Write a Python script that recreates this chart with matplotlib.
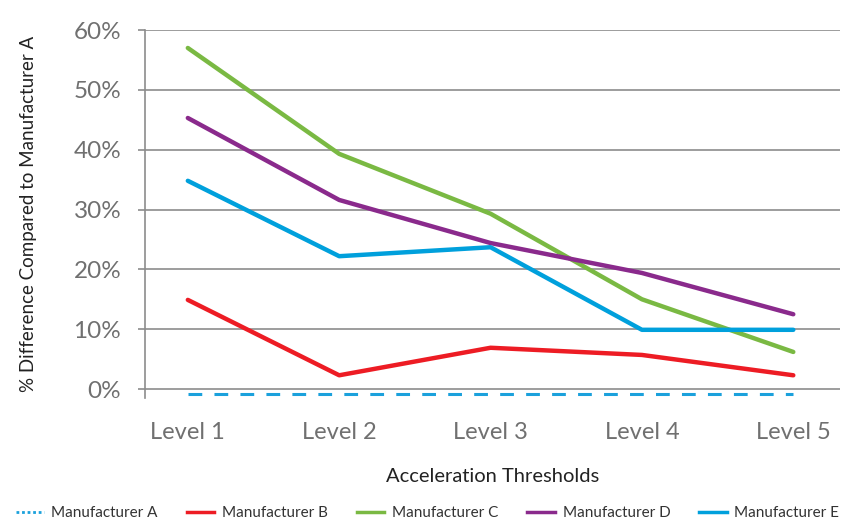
import matplotlib.pyplot as plt
from matplotlib.lines import Line2D

levels = ['Level 1', 'Level 2', 'Level 3', 'Level 4', 'Level 5']
mfr_a = [-0.9, -0.9, -0.9, -0.9, -0.9]
mfr_b = [14.9, 2.3, 6.9, 5.7, 2.3]
mfr_c = [57.0, 39.3, 29.3, 15.0, 6.2]
mfr_d = [45.3, 31.6, 24.4, 19.4, 12.5]
mfr_e = [34.8, 22.2, 23.7, 9.9, 9.9]

plt.rcParams['font.family'] = ['Lato', 'DejaVu Sans']

fig = plt.figure(figsize=(8.47, 5.22), dpi=100)
ax = fig.add_axes([0.171, 0.2375, 0.821, 0.705])

x = list(range(1, len(levels) + 1))
ax.plot(x, mfr_a, color='#1ba1dc', lw=2.2, ls=(0, (4.5, 4)), zorder=3)
ax.plot(x, mfr_b, color='#ed1c24', lw=3.2, solid_capstyle='round', solid_joinstyle='round', zorder=3)
ax.plot(x, mfr_c, color='#7ab943', lw=3.2, solid_capstyle='round', solid_joinstyle='round', zorder=3)
ax.plot(x, mfr_d, color='#8a2a8c', lw=3.2, solid_capstyle='round', solid_joinstyle='round', zorder=3)
ax.plot(x, mfr_e, color='#00a0dc', lw=3.2, solid_capstyle='round', solid_joinstyle='round', zorder=4)

ax.set_xlim(0.716, 5.31)
ax.set_ylim(-1.5, 60)
ax.set_yticks(range(0, 61, 10))
ax.set_yticklabels(['%d%%' % v for v in range(0, 61, 10)])
ax.set_xticks(x)
ax.set_xticklabels(levels)
ax.yaxis.grid(True, color='#8c8c8c', lw=1.2)
ax.set_axisbelow(True)
for s in ['top', 'right', 'bottom']:
    ax.spines[s].set_visible(False)
ax.spines['left'].set_color('#8c8c8c')
ax.spines['left'].set_linewidth(1.2)
ax.tick_params(axis='y', colors='#8c8c8c', labelcolor='#707070', labelsize=17.5, length=5, width=1.2, pad=12)
ax.tick_params(axis='x', length=0, labelcolor='#707070', labelsize=17, pad=17)

ax.set_xlabel('Acceleration Thresholds', fontsize=14.5, color='#222222', labelpad=18)
ax.set_ylabel('% Difference Compared to Manufacturer A', fontsize=13.5, color='#222222', labelpad=26)

handles = [
    Line2D([], [], color='#1ba1dc', lw=2, ls=(0, (1, 1))),
    Line2D([], [], color='#ed1c24', lw=2.5),
    Line2D([], [], color='#7ab943', lw=2.5),
    Line2D([], [], color='#8a2a8c', lw=2.5),
    Line2D([], [], color='#00a0dc', lw=2.5),
]
names = ['Manufacturer A', 'Manufacturer B', 'Manufacturer C', 'Manufacturer D', 'Manufacturer E']
fig.legend(handles, names, loc='center', bbox_to_anchor=(0.505, 0.017), ncol=5, frameon=False,
           fontsize=11, handlelength=1.8, handletextpad=0.5, columnspacing=1.9, labelcolor='#333333')

fig.savefig('out.png', dpi=100)
